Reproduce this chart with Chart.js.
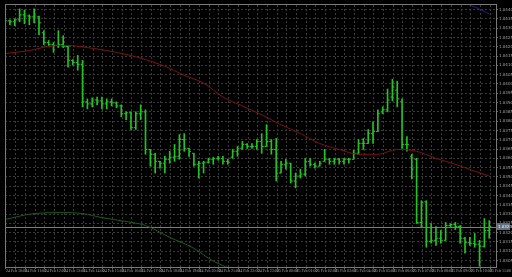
<!DOCTYPE html>
<html>
<head>
<meta charset="utf-8">
<script src="https://cdn.jsdelivr.net/npm/chart.js@4.4.0/dist/chart.umd.min.js"></script>
<style>
html, body { margin: 0; padding: 0; background: #000; }
canvas { display: block; }
</style>
</head>
<body>
<canvas id="grafik" width="512" height="277"></canvas>
<script>
// OHLC bars, index of first bar is -1 (partly cut at the left edge)
const prviBar = -1;

const otvaranje = [
    1.04340, 1.04340, 1.04335, 1.04345, 1.04372, 1.04366, 1.04361, 1.04361, 1.04276, 1.04223,
    1.04212, 1.04207, 1.04212, 1.04202, 1.04127, 1.04116, 1.04106, 1.03904, 1.03893, 1.03914,
    1.03909, 1.03893, 1.03904, 1.03898, 1.03882, 1.03840, 1.03845, 1.03765, 1.03840, 1.03850,
    1.03648, 1.03622, 1.03584, 1.03574, 1.03595, 1.03606, 1.03611, 1.03701, 1.03654, 1.03627,
    1.03568, 1.03574, 1.03579, 1.03595, 1.03600, 1.03600, 1.03584, 1.03606, 1.03638, 1.03654,
    1.03675, 1.03664, 1.03664, 1.03691, 1.03664, 1.03691, 1.03648, 1.03521, 1.03568, 1.03574,
    1.03478, 1.03505, 1.03515, 1.03584, 1.03568, 1.03558, 1.03584, 1.03595, 1.03584, 1.03595,
    1.03584, 1.03595, 1.03595, 1.03627, 1.03680, 1.03680, 1.03733, 1.03744, 1.03850, 1.03861,
    1.03930, 1.03967, 1.03904, 1.03675, 1.03611, 1.03595, 1.03255, 1.03366, 1.03154, 1.03159,
    1.03170, 1.03159, 1.03239, 1.03244, 1.03233, 1.03170, 1.03148, 1.03143, 1.03138, 1.03127,
    1.03212
];

const najvisa = [
    1.04345, 1.04345, 1.04350, 1.04404, 1.04398, 1.04372, 1.04404, 1.04366, 1.04287, 1.04234,
    1.04223, 1.04287, 1.04260, 1.04207, 1.04132, 1.04154, 1.04127, 1.03920, 1.03925, 1.03930,
    1.03930, 1.03920, 1.03920, 1.03904, 1.03888, 1.03850, 1.03850, 1.03850, 1.03888, 1.03861,
    1.03648, 1.03627, 1.03584, 1.03611, 1.03638, 1.03675, 1.03728, 1.03733, 1.03654, 1.03627,
    1.03584, 1.03584, 1.03600, 1.03606, 1.03611, 1.03611, 1.03595, 1.03648, 1.03664, 1.03691,
    1.03680, 1.03680, 1.03701, 1.03733, 1.03781, 1.03701, 1.03707, 1.03584, 1.03595, 1.03574,
    1.03521, 1.03542, 1.03600, 1.03600, 1.03574, 1.03584, 1.03648, 1.03600, 1.03600, 1.03600,
    1.03600, 1.03600, 1.03643, 1.03701, 1.03707, 1.03755, 1.03797, 1.03861, 1.03877, 1.03973,
    1.04026, 1.04015, 1.03920, 1.03717, 1.03622, 1.03600, 1.03372, 1.03372, 1.03249, 1.03233,
    1.03212, 1.03255, 1.03249, 1.03255, 1.03239, 1.03175, 1.03175, 1.03196, 1.03159, 1.03276,
    1.03265
];

const najniza = [
    1.04329, 1.04319, 1.04313, 1.04335, 1.04324, 1.04319, 1.04329, 1.04265, 1.04212, 1.04207,
    1.04170, 1.04196, 1.04196, 1.04090, 1.04101, 1.04074, 1.03877, 1.03866, 1.03877, 1.03888,
    1.03866, 1.03866, 1.03882, 1.03872, 1.03824, 1.03808, 1.03755, 1.03755, 1.03808, 1.03622,
    1.03558, 1.03521, 1.03547, 1.03521, 1.03574, 1.03584, 1.03595, 1.03638, 1.03611, 1.03558,
    1.03494, 1.03521, 1.03574, 1.03568, 1.03590, 1.03568, 1.03568, 1.03600, 1.03611, 1.03648,
    1.03654, 1.03654, 1.03648, 1.03627, 1.03664, 1.03622, 1.03478, 1.03521, 1.03542, 1.03467,
    1.03441, 1.03494, 1.03505, 1.03558, 1.03547, 1.03558, 1.03584, 1.03568, 1.03568, 1.03568,
    1.03568, 1.03574, 1.03595, 1.03622, 1.03648, 1.03680, 1.03680, 1.03744, 1.03840, 1.03850,
    1.03909, 1.03877, 1.03654, 1.03638, 1.03489, 1.03249, 1.03228, 1.03122, 1.03143, 1.03132,
    1.03143, 1.03159, 1.03233, 1.03217, 1.03143, 1.03090, 1.03132, 1.03122, 1.03020, 1.03122,
    1.03170
];

const zatvaranje = [
    1.04340, 1.04335, 1.04345, 1.04372, 1.04366, 1.04361, 1.04366, 1.04329, 1.04223, 1.04212,
    1.04207, 1.04212, 1.04202, 1.04127, 1.04116, 1.04106, 1.03904, 1.03893, 1.03914, 1.03909,
    1.03893, 1.03904, 1.03898, 1.03882, 1.03840, 1.03845, 1.03765, 1.03840, 1.03850, 1.03648,
    1.03622, 1.03584, 1.03574, 1.03595, 1.03606, 1.03611, 1.03701, 1.03654, 1.03638, 1.03568,
    1.03574, 1.03579, 1.03595, 1.03600, 1.03600, 1.03584, 1.03579, 1.03638, 1.03654, 1.03675,
    1.03664, 1.03664, 1.03691, 1.03664, 1.03691, 1.03648, 1.03521, 1.03568, 1.03574, 1.03478,
    1.03505, 1.03515, 1.03584, 1.03568, 1.03558, 1.03574, 1.03595, 1.03584, 1.03595, 1.03584,
    1.03595, 1.03595, 1.03627, 1.03680, 1.03680, 1.03733, 1.03744, 1.03840, 1.03861, 1.03914,
    1.03983, 1.03920, 1.03675, 1.03675, 1.03542, 1.03255, 1.03361, 1.03154, 1.03159, 1.03170,
    1.03159, 1.03239, 1.03244, 1.03233, 1.03170, 1.03148, 1.03143, 1.03138, 1.03127, 1.03212,
    1.03233
];

// moving averages, read at some bar indexes
const crvenaIndeks = [-1, 4, 8, 12, 16, 20, 24, 28, 32, 36, 40, 44, 48, 52, 56, 60, 64, 68, 72, 76, 80, 84, 88, 92, 96, 99];
const crvenaCijena = [1.04164, 1.04180, 1.04202, 1.04207, 1.04196, 1.04180, 1.04159, 1.04132, 1.04095, 1.04047,
    1.04005, 1.03930, 1.03882, 1.03834, 1.03781, 1.03733, 1.03680, 1.03648, 1.03622, 1.03622,
    1.03648, 1.03638, 1.03600, 1.03568, 1.03531, 1.03505];

const zelenaIndeks = [-1, 5, 11, 15, 19, 24, 28, 33, 38, 42, 47];
const zelenaCijena = [1.03271, 1.03303, 1.03308, 1.03303, 1.03281, 1.03260, 1.03239, 1.03175, 1.03116, 1.03047, 1.02993];

const plavaIndeks = [93, 94, 96.5, 99];
const plavaCijena = [1.04446, 1.04436, 1.04409, 1.04377];

const vremena = [
    "24 Feb 10:00", "24 Feb 11:00", "24 Feb 12:00", "24 Feb 13:00", "24 Feb 14:00", "24 Feb 15:00",
    "24 Feb 16:00", "24 Feb 17:00", "24 Feb 18:00", "24 Feb 19:00", "24 Feb 20:00", "24 Feb 21:00",
    "24 Feb 22:00", "24 Feb 23:00", "25 Feb 00:00", "25 Feb 01:00", "25 Feb 02:00", "25 Feb 03:00",
    "25 Feb 04:00", "25 Feb 05:00", "25 Feb 06:00", "25 Feb 07:00", "25 Feb 08:00", "25 Feb 09:00",
    "25 Feb 10:00", "25 Feb 11:00"
];

const zelenaBoja = '#22c322';
const bid = zatvaranje[zatvaranje.length - 1];

let svijece = [], otvTacke = [], zatTacke = [];
for (let i = 0; i < otvaranje.length; i++) {
    let k = prviBar + i;
    svijece.push({ x: k, y: [najniza[i], najvisa[i]] });
    otvTacke.push({ x: k - 0.21, y: otvaranje[i] });
    zatTacke.push({ x: k + 0.21, y: zatvaranje[i] });
}

const okvir = {
    id: 'okvir',
    beforeDraw(chart) {
        const ctx = chart.ctx;
        ctx.save();
        ctx.fillStyle = '#000';
        ctx.fillRect(0, 0, chart.width, chart.height);
        ctx.restore();
    },
    beforeDatasetsDraw(chart) {
        const ctx = chart.ctx, a = chart.chartArea;
        let y = Math.round(chart.scales.y.getPixelForValue(bid)) + 0.5;
        ctx.save();
        ctx.strokeStyle = '#6f7f8f';
        ctx.lineWidth = 1;
        ctx.beginPath();
        ctx.moveTo(a.left, y);
        ctx.lineTo(a.right, y);
        ctx.stroke();
        ctx.restore();
    },
    afterDraw(chart) {
        const ctx = chart.ctx, a = chart.chartArea;
        ctx.save();
        ctx.strokeStyle = '#7a7a7a';
        ctx.lineWidth = 1;
        ctx.strokeRect(a.left + 0.5, a.top - 0.5, a.right - a.left, a.bottom - a.top + 1);
        let y = chart.scales.y.getPixelForValue(bid);
        ctx.fillStyle = '#5f6f80';
        ctx.fillRect(a.right + 1, y - 3.5, 13, 7);
        ctx.fillStyle = '#fff';
        ctx.font = '4px "DejaVu Sans"';
        ctx.textBaseline = 'middle';
        ctx.fillText(bid.toFixed(4), a.right + 2, y);
        ctx.restore();
    }
};

new Chart(document.getElementById('grafik'), {
    type: 'line',
    data: {
        datasets: [{
            type: 'bar',
            data: svijece,
            backgroundColor: zelenaBoja,
            borderWidth: 0,
            barThickness: 1,
            grouped: false,
            order: 3
        }, {
            type: 'scatter',
            data: otvTacke,
            pointStyle: 'line',
            pointRadius: 1,
            borderColor: zelenaBoja,
            borderWidth: 1,
            order: 3
        }, {
            type: 'scatter',
            data: zatTacke,
            pointStyle: 'line',
            pointRadius: 1,
            borderColor: zelenaBoja,
            borderWidth: 1,
            order: 3
        }, {
            data: crvenaIndeks.map((k, i) => ({ x: k, y: crvenaCijena[i] })),
            borderColor: '#801010',
            borderWidth: 1,
            pointRadius: 0,
            cubicInterpolationMode: 'monotone',
            order: 1
        }, {
            data: zelenaIndeks.map((k, i) => ({ x: k, y: zelenaCijena[i] })),
            borderColor: '#1d5a1d',
            borderWidth: 1,
            pointRadius: 0,
            cubicInterpolationMode: 'monotone',
            order: 2
        }, {
            data: plavaIndeks.map((k, i) => ({ x: k, y: plavaCijena[i] })),
            borderColor: '#1c1c8c',
            borderWidth: 1,
            pointRadius: 0,
            order: 2
        }]
    },
    options: {
        responsive: false,
        animation: false,
        layout: { padding: { top: 2, left: 1, right: 0, bottom: 0 } },
        plugins: {
            legend: { display: false },
            tooltip: { enabled: false }
        },
        scales: {
            x: {
                type: 'linear',
                offset: false,
                min: -1.02,
                max: 100.4,
                afterBuildTicks(scale) {
                    let t = [];
                    for (let n = 0; n <= 50; n++) t.push({ value: -0.82 + 2 * n });
                    scale.ticks = t;
                },
                afterFit(scale) {
                    scale.height = 10;
                    scale.paddingLeft = 0;
                    scale.paddingRight = 0;
                },
                border: { display: false, dash: [2, 2] },
                grid: {
                    color: '#3a3a3a',
                    tickColor: '#6a6a6a',
                    tickLength: 2,
                    offset: false
                },
                ticks: {
                    autoSkip: false,
                    maxRotation: 0,
                    minRotation: 0,
                    align: 'start',
                    padding: 0,
                    color: '#a8a8a8',
                    font: { family: 'Liberation Sans Narrow', size: 4 },
                    callback: (v, i) => i % 2 === 0 ? vremena[i / 2] : ''
                }
            },
            y: {
                position: 'right',
                min: 1.030154,
                max: 1.04425,
                afterBuildTicks(scale) {
                    let t = [];
                    for (let i = 0; i <= 27; i++) t.push({ value: (10305 + 5 * i) / 10000 });
                    scale.ticks = t;
                },
                afterFit(scale) {
                    scale.width = 16;
                    scale.paddingTop = 0;
                    scale.paddingBottom = 0;
                },
                border: { display: false, dash: [2, 2] },
                grid: {
                    color: '#3a3a3a',
                    tickColor: '#6a6a6a',
                    tickLength: 2
                },
                ticks: {
                    padding: 1,
                    color: '#a8a8a8',
                    font: { family: 'DejaVu Sans', size: 4 },
                    callback: v => v.toFixed(4)
                }
            }
        }
    },
    plugins: [okvir]
});
</script>
</body>
</html>
